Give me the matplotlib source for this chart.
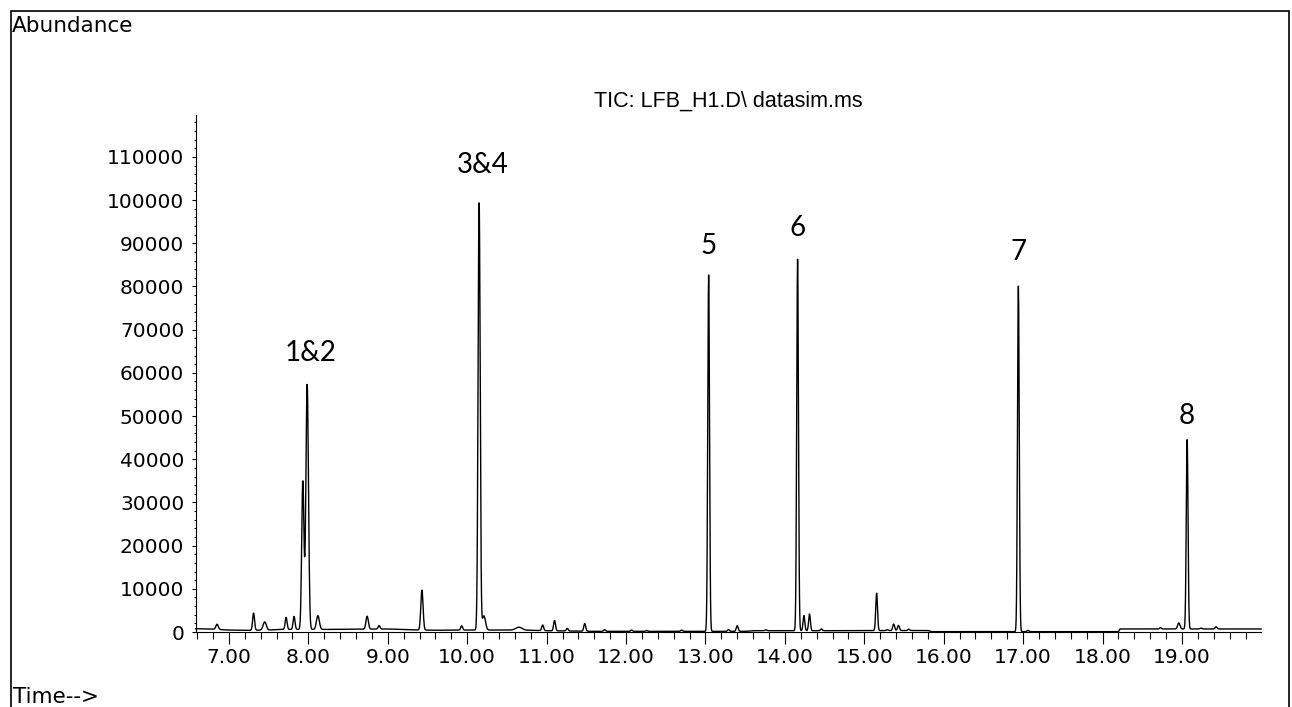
import numpy as np
import matplotlib
matplotlib.use("Agg")
import matplotlib.pyplot as plt
from matplotlib.patches import Rectangle
from matplotlib.ticker import MultipleLocator, FuncFormatter

# peak table: retention time (min), height, width (sigma, min)
peak_times = [6.85, 7.31, 7.45, 7.72, 7.82, 7.93, 7.985, 8.12, 8.74, 8.89,
              9.43, 9.93, 10.15, 10.21, 10.65, 10.95, 11.10, 11.26, 11.48, 11.73,
              12.07, 12.26, 12.70, 13.04, 13.29, 13.40, 13.76, 14.16, 14.24, 14.31,
              14.46, 15.155, 15.29, 15.37, 15.43, 15.56, 16.94, 17.06, 18.73, 18.96,
              19.065, 19.24, 19.43]
peak_heights = [1200, 4000, 1900, 2800, 3000, 34500, 56800, 3200, 3000, 800,
                9300, 1000, 100000, 3300, 700, 1300, 2400, 600, 1800, 400,
                300, 200, 300, 82500, 400, 1300, 200, 86000, 3500, 3900,
                400, 8700, 200, 1500, 1200, 300, 80000, 300, 300, 1400,
                44000, 200, 500]
peak_widths = [0.015, 0.012, 0.02, 0.012, 0.012, 0.014, 0.016, 0.018, 0.015, 0.012,
               0.014, 0.012, 0.013, 0.02, 0.04, 0.012, 0.012, 0.012, 0.012, 0.012,
               0.012, 0.012, 0.012, 0.011, 0.012, 0.012, 0.012, 0.011, 0.011, 0.011,
               0.012, 0.011, 0.012, 0.012, 0.012, 0.012, 0.011, 0.012, 0.012, 0.015,
               0.011, 0.012, 0.012]

# baseline level read at a few retention times
base_times = [6.58, 6.8, 7.0, 7.2, 7.5, 7.65, 8.3, 8.6, 9.0, 9.3, 9.6, 10.0, 10.4,
              10.8, 11.0, 11.6, 13.5, 13.6, 14.1, 14.5, 15.8, 15.85, 18.2, 18.22, 20.0]
base_levels = [750, 650, 450, 380, 450, 600, 600, 650, 700, 500, 400, 450, 450,
               400, 300, 150, 150, 300, 300, 300, 350, 80, 80, 700, 700]

# compound labels
label_text = ["1&2", "3&4", "5", "6", "7", "8"]
label_x = [8.034, 10.19, 13.04, 14.16, 16.94, 19.06]
label_y = [64600, 108150, 89400, 93560, 88000, 50020]

t = np.arange(6.58, 20.0, 0.004)
signal = np.interp(t, base_times, base_levels)
for pt, ph, pw in zip(peak_times, peak_heights, peak_widths):
    signal = signal + ph * np.exp(-0.5 * ((t - pt) / pw) ** 2)

W, H = 1292, 707
fig = plt.figure(figsize=(W / 100, H / 100), dpi=100)
ax = fig.add_axes([196 / W, (H - 632) / H, (1261 - 196) / W, (632 - 115) / H])

ax.plot(t, signal, color="black", lw=1.0, clip_on=False)

ax.set_xlim(6.585, 19.995)
ax.set_ylim(0, 119700)

for s in ["top", "right"]:
    ax.spines[s].set_visible(False)
for s in ["left", "bottom"]:
    ax.spines[s].set_linewidth(0.8)

ax.xaxis.set_major_locator(MultipleLocator(1.0))
ax.xaxis.set_minor_locator(MultipleLocator(0.2))
ax.yaxis.set_major_locator(MultipleLocator(10000))
ax.yaxis.set_minor_locator(MultipleLocator(2000))
ax.xaxis.set_major_formatter(FuncFormatter(lambda v, p: f"{v:.2f}"))
ax.yaxis.set_major_formatter(FuncFormatter(lambda v, p: f"{v:.0f}"))

ax.tick_params(axis="x", which="major", length=8.6, width=0.8, pad=3, labelsize=14.5)
ax.tick_params(axis="x", which="minor", length=5, width=0.8)
ax.tick_params(axis="y", which="major", length=3, width=0.8, pad=5.5, labelsize=14.5)
ax.tick_params(axis="y", which="minor", length=1.5, width=0.8)

for txt, lx, ly in zip(label_text, label_x, label_y):
    ax.text(lx, ly, txt, ha="center", va="center", fontsize=20, family="Lato")

ax.text(0.5, 1.027, "TIC: LFB_H1.D\\ datasim.ms", transform=ax.transAxes,
        ha="center", va="center", fontsize=15.5, family="Liberation Sans")

fig.text(12 / W, (H - 32.3) / H, "Abundance", ha="left", va="baseline", fontsize=15.5)
fig.text(12.7 / W, (H - 703.3) / H, "Time-->", ha="left", va="baseline", fontsize=15.5)

fig.add_artist(Rectangle((10.5 / W, -0.05), (1289 - 10.5) / W, (H - 10.5) / H + 0.05,
                         transform=fig.transFigure, fill=False, lw=1.2, ec="black"))

fig.savefig("out.png", dpi=100)
